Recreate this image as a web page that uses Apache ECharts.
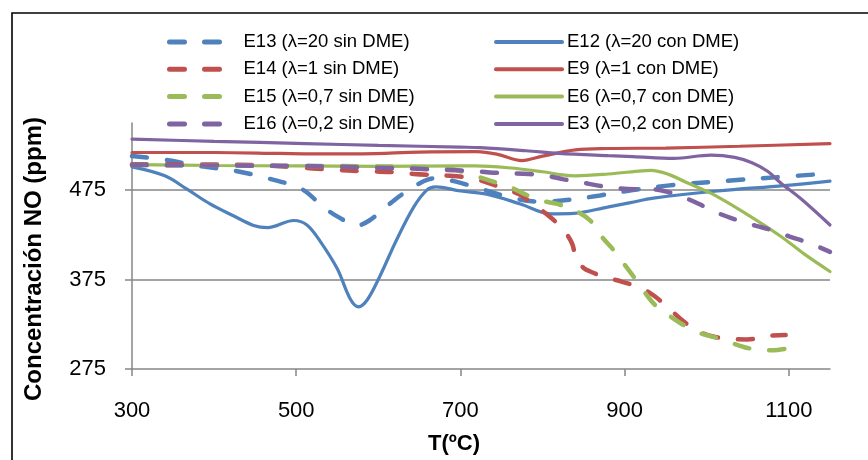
<!DOCTYPE html>
<html>
<head>
<meta charset="utf-8">
<script src="https://cdn.jsdelivr.net/npm/echarts@6/dist/echarts.min.js"></script>
<style>
  html, body { margin: 0; padding: 0; background: #fff; }
  #chart { width: 868px; height: 460px; }
</style>
</head>
<body>
<div id="chart"></div>
<script>
// NO concentration (ppm) versus temperature (ºC), pairs of [T, ppm]
const e13 = [[300,513],[336,509.5],[381,502],[426,496.5],[466,488],[507,476],[533,456],[552,444.5],[574,435.5],[589,441],[609,456],[627,469],[647,481],[667,488],[692,485],[726,476],[769,465],[800,462],[830,464],[870,469],[910,475],[952,480],[1033,486],[1094,490],[1140,493]];
const e12 = [[300,501],[340,491],[367,476],[395,459.5],[424,446],[448,435.5],[465,433],[497,441],[513,436],[529,418],[550,387],[566,353],[576,344.5],[587,353],[602,379],[622,419],[643,456],[659,475],[670,478.5],[700,474],[732,470.5],[773,459.5],[810,448.5],[838,449],[879,456],[907,461],[935,466],[1013,474],[1094,480],[1150,485]];
const e14 = [[300,504],[400,503.5],[450,503],[500,500.5],[540,498],[586,496],[623,495],[643,493],[686,491],[710,489],[724,486],[752,477],[771,470.5],[789,459],[807,446.5],[824,432],[836,415],[841,397],[850,388],[858,384],[877,377.5],[897,372.5],[921,365],[937,356],[956,341],[972,328],[990,317],[1009,311],[1031,308.5],[1049,308],[1076,312],[1096,313]];
const e9 = [[300,517],[400,517],[480,516],[520,515.5],[580,515.5],[650,517.5],[720,518],[745,515],[775,508],[800,513],[840,520],[880,521.5],[950,522],[1040,524],[1150,527]];
const e15 = [[300,503],[400,502.5],[500,502],[600,501.5],[680,500],[714,492],[736,485.5],[759,479],[777,471],[800,463],[818,459.5],[840,452],[858,441],[871,424],[885,409.5],[897,395],[911,378],[921,365],[937,346.5],[956,333.5],[972,324],[992,315],[1013,309.5],[1037,302],[1055,297.5],[1080,296],[1098,298]];
const e6 = [[300,503.5],[400,502.5],[500,502],[600,501.5],[700,502],[718,502],[758,500],[800,495.5],[824,492],[840,491],[880,493],[921,496.5],[932,497],[955,492],[974,484],[1006,471],[1047,449],[1089,424],[1118,404],[1150,384]];
const e16 = [[300,503],[400,502.5],[500,502],[554,501],[596,500],[641,499],[684,497.5],[720,496],[740,494.5],[783,493],[805,491],[826,487],[848,483.5],[868,480],[891,477],[912,476],[933,476],[952,473],[977,465],[996,457],[1017,448],[1037,441.5],[1060,435],[1080,430],[1101,423],[1121,417],[1150,406]];
const e3 = [[300,532],[400,529.5],[511,527],[600,525],[700,523],[724,522.5],[780,519],[820,516],[880,513.5],[910,512.5],[960,510.5],[1005,514],[1034,511.5],[1055,505.5],[1074,496],[1090,483],[1115,465],[1150,436]];

const namesSin = ['E13 (λ=20 sin DME)', 'E14 (λ=1 sin DME)', 'E15 (λ=0,7 sin DME)', 'E16 (λ=0,2 sin DME)'];
const namesCon = ['E12 (λ=20 con DME)', 'E9 (λ=1 con DME)', 'E6 (λ=0,7 con DME)', 'E3 (λ=0,2 con DME)'];
const xTicks = [300, 500, 700, 900, 1100];
const yTicks = [275, 375, 475];

const BLUE = '#4F81BD', RED = '#C0504D', GREEN = '#9BBB59', PURPLE = '#8064A2';
const FONT = "'Liberation Sans', Arial, sans-serif";

function dashed(name, data, color) {
  return {
    name, type: 'line', data, smooth: 0.35, showSymbol: false, symbol: 'none',
    lineStyle: { color, width: 4.5, type: [15, 20], cap: 'round' },
    itemStyle: { color }, emphasis: { disabled: true }, animation: false
  };
}
function solid(name, data, color) {
  return {
    name, type: 'line', data, smooth: 0.35, showSymbol: false, symbol: 'none',
    lineStyle: { color, width: 3.2, cap: 'round' },
    itemStyle: { color }, emphasis: { disabled: true }, animation: false
  };
}

const chart = echarts.init(document.getElementById('chart'), null, { renderer: 'canvas' });
const legendText = { fontFamily: FONT, fontSize: 18.5, color: '#000', lineHeight: 20 };
// legend keys show only the line stroke, no marker
const legendItem = { color: 'rgba(0,0,0,0)', borderWidth: 0 };

chart.setOption({
  backgroundColor: '#fff',
  animation: false,
  grid: { left: 132, right: 38, top: 123, bottom: 89, containLabel: false },
  legend: [
    { data: namesSin, orient: 'vertical', left: 162, top: 27, itemWidth: 69, itemHeight: 20,
      itemGap: 7.3, textStyle: legendText, itemStyle: legendItem,
      lineStyle: { width: 5, type: [15, 20], cap: 'round' }, selectedMode: false },
    { data: namesCon, orient: 'vertical', left: 489, top: 27, itemWidth: 66, itemHeight: 20,
      itemGap: 7.3, textStyle: legendText, itemStyle: legendItem,
      lineStyle: { width: 4, cap: 'round' }, selectedMode: false }
  ],
  xAxis: {
    type: 'value', min: 300, max: 1150, interval: 200,
    name: 'T(ºC)', nameLocation: 'middle', nameGap: 64,
    nameTextStyle: { fontFamily: FONT, fontSize: 22, fontWeight: 'bold', color: '#000', padding: [0, 54, 0, 0] },
    axisLine: { lineStyle: { color: '#868686', width: 1.5 } },
    axisTick: { show: true, length: 7, lineStyle: { color: '#868686', width: 1.5 }, customValues: xTicks },
    axisLabel: { fontFamily: FONT, fontSize: 22, color: '#000', margin: 31, customValues: xTicks,
      formatter: v => String(v) },
    splitLine: { show: false }
  },
  yAxis: {
    type: 'value', min: 275, max: 550, interval: 100,
    name: 'Concentración NO (ppm)', nameLocation: 'middle', nameGap: 86, nameRotate: 90,
    nameTextStyle: { fontFamily: FONT, fontSize: 24, fontWeight: 'bold', color: '#000', padding: [0, 26, 0, 0] },
    axisLine: { show: true, lineStyle: { color: '#868686', width: 1.5 } },
    axisTick: { show: true, length: 7, lineStyle: { color: '#868686', width: 1.5 }, customValues: yTicks },
    axisLabel: { fontFamily: FONT, fontSize: 22, color: '#000', margin: 26, customValues: yTicks,
      formatter: v => String(v) },
    splitLine: { show: true, showMinLine: false, lineStyle: { color: '#868686', width: 1.5 } }
  },
  graphic: [
    { type: 'rect', silent: true, z: 100,
      shape: { x: 12, y: 13, width: 900, height: 500 },
      style: { fill: 'none', stroke: '#000', lineWidth: 1.6 } }
  ],
  series: [
    dashed(namesSin[0], e13, BLUE),
    solid(namesCon[0], e12, BLUE),
    dashed(namesSin[1], e14, RED),
    solid(namesCon[1], e9, RED),
    dashed(namesSin[2], e15, GREEN),
    solid(namesCon[2], e6, GREEN),
    dashed(namesSin[3], e16, PURPLE),
    solid(namesCon[3], e3, PURPLE)
  ]
});
</script>
</body>
</html>
